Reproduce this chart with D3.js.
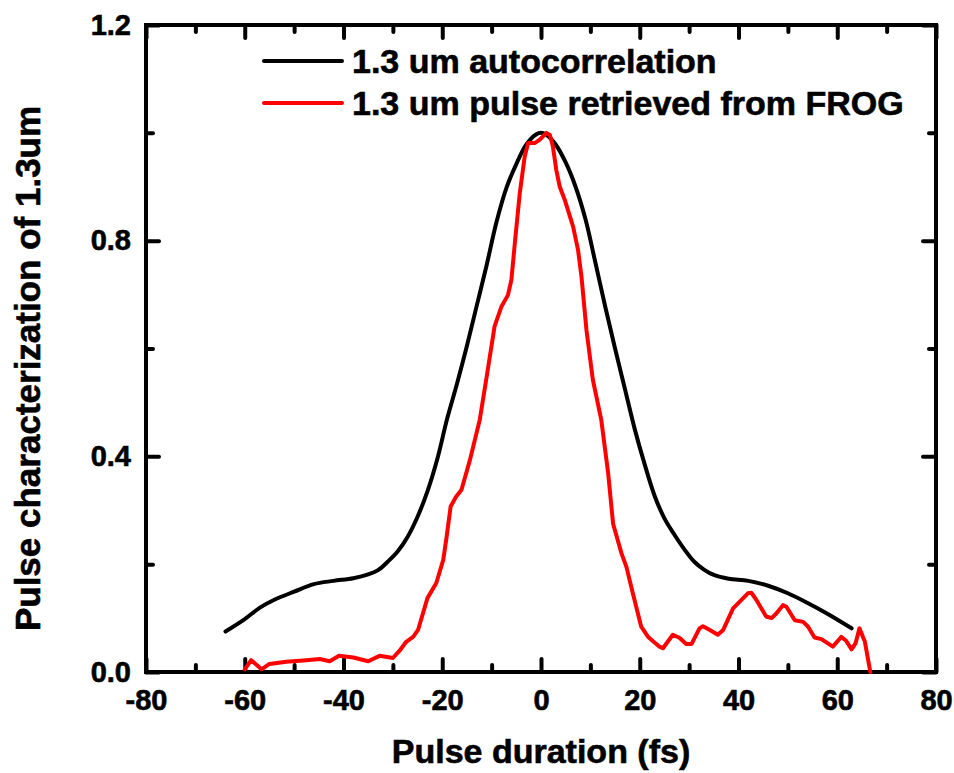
<!DOCTYPE html>
<html>
<head>
<meta charset="utf-8">
<script src="https://cdn.jsdelivr.net/npm/d3@7"></script>
<style>
  body { margin: 0; background: #fff; }
  svg text { font-family: 'Liberation Sans', Arial, sans-serif; font-weight: bold; fill: #000; }
</style>
</head>
<body>
<div id="chart"></div>
<script>
// Autocorrelation trace (black)
const autoDelay = [-63.9, -60, -57, -54, -50, -46, -42, -38, -35, -33, -31, -29, -27, -25, -23, -21, -19, -17, -15, -13, -11, -9, -7, -5, -3, -1, 0,
  1, 3, 5, 7, 9, 11, 13, 15, 17, 19, 21, 23, 25, 27, 29, 31, 33, 35, 38, 42, 46, 50, 54, 58, 62.9]
const autoSignal = [0.075, 0.098, 0.119, 0.134, 0.149, 0.163, 0.169, 0.174, 0.181, 0.189, 0.205, 0.224, 0.251, 0.288, 0.335, 0.395, 0.47, 0.535, 0.605, 0.68, 0.755, 0.835, 0.898, 0.942, 0.978, 0.997, 1.0,
  0.997, 0.978, 0.945, 0.9, 0.84, 0.76, 0.678, 0.6, 0.525, 0.45, 0.385, 0.327, 0.285, 0.255, 0.228, 0.205, 0.19, 0.18, 0.173, 0.169, 0.16, 0.146, 0.128, 0.108, 0.081]

// Pulse retrieved from FROG (red)
const frogDelay = [-60, -58.7, -56.6, -55, -51.6, -47.5, -44.8, -42.8, -40.9, -38, -35, -32.7, -30, -28.6, -27.3, -25.9, -24.9, -23, -21.2, -19.8, -19.2, -18.3, -17.2, -16.1,
  -14.4, -12.4, -11.1, -9.4, -8, -6.7, -6, -5.3, -4.3, -3.3, -2.6, -1.3, -0.3, 1.1, 1.8, 2.4, 3.1, 3.8, 4.8, 6.5, 7.5, 8.2, 9.2, 10.5, 12.2, 13.6, 14.6, 16.3, 17.3, 18.6,
  20.3, 21.7, 24, 24.7, 26.7, 28.1, 29.4, 30.5, 32.1, 32.8, 34.2, 35.8, 36.9, 38.9, 40.2, 41.9, 42.6, 43.6, 45.6, 46.7, 47.7, 49, 49.7, 51.4, 53.1, 54.1, 55.4, 56.8,
  59.1, 60.8, 61.8, 62.9, 63.7, 64.5, 65.6, 66.7]
const frogSignal = [0.005, 0.022, 0.005, 0.015, 0.019, 0.022, 0.024, 0.02, 0.03, 0.027, 0.02, 0.03, 0.026, 0.04, 0.056, 0.065, 0.078, 0.137, 0.165, 0.208, 0.245, 0.307, 0.325, 0.338,
  0.393, 0.468, 0.542, 0.641, 0.678, 0.699, 0.727, 0.795, 0.888, 0.956, 0.981, 0.981, 0.987, 1.0, 0.996, 0.975, 0.931, 0.9, 0.876, 0.826, 0.783, 0.733, 0.635, 0.542, 0.468, 0.369, 0.275, 0.22, 0.195, 0.146,
  0.084, 0.065, 0.047, 0.044, 0.069, 0.063, 0.052, 0.052, 0.081, 0.085, 0.078, 0.069, 0.078, 0.118, 0.13, 0.146, 0.147, 0.134, 0.103, 0.1, 0.109, 0.124, 0.121, 0.096, 0.093, 0.084, 0.064, 0.061,
  0.047, 0.065, 0.058, 0.042, 0.053, 0.081, 0.056, 0.0]

// Ticks
const xMajorTicks = [-80, -60, -40, -20, 0, 20, 40, 60, 80]
const xMinorTicks = [-70, -50, -30, -10, 10, 30, 50, 70]
const yMajorTicks = [0, 0.4, 0.8, 1.2]
const yMinorTicks = [0.2, 0.6, 1.0]

const seriesNames = ['1.3 um autocorrelation', '1.3 um pulse retrieved from FROG']
const seriesColors = ['#000000', '#ff0000']

const width = 954
const height = 773
const margin = { top: 25, right: 18, bottom: 101, left: 146 }
const innerW = width - margin.left - margin.right
const innerH = height - margin.top - margin.bottom

const svg = d3
  .select('#chart')
  .append('svg')
  .attr('width', width)
  .attr('height', height)

const g = svg.append('g').attr('transform', `translate(${margin.left},${margin.top})`)

// Scales
const x = d3.scaleLinear().domain([-80, 80]).range([0, innerW])
const y = d3.scaleLinear().domain([0, 1.2]).range([innerH, 0])

const majorLen = 13
const minorLen = 7

// Styling helper for axis groups
function styleAxis(sel, labels) {
  sel.select('.domain').remove()
  sel.selectAll('.tick line').attr('stroke', '#000').attr('stroke-width', 4).attr('stroke-linecap', 'round')
  sel.selectAll('.tick text')
    .attr('font-size', 29)
    .attr('fill', '#000')
    .attr('stroke', '#000')
    .attr('stroke-width', 0.6)
  if (!labels) sel.selectAll('.tick text').remove()
}

// Bottom axis
g.append('g')
  .attr('transform', `translate(0,${innerH})`)
  .call(d3.axisBottom(x).tickValues(xMajorTicks).tickSizeInner(-majorLen).tickSizeOuter(0).tickPadding(17).tickFormat(d => String(d)))
  .call(s => styleAxis(s, true))
g.append('g')
  .attr('transform', `translate(0,${innerH})`)
  .call(d3.axisBottom(x).tickValues(xMinorTicks).tickSizeInner(-minorLen).tickSizeOuter(0))
  .call(s => styleAxis(s, false))

// Top axis
g.append('g')
  .call(d3.axisTop(x).tickValues(xMajorTicks).tickSizeInner(-majorLen).tickSizeOuter(0))
  .call(s => styleAxis(s, false))
g.append('g')
  .call(d3.axisTop(x).tickValues(xMinorTicks).tickSizeInner(-minorLen).tickSizeOuter(0))
  .call(s => styleAxis(s, false))

// Left axis
g.append('g')
  .call(d3.axisLeft(y).tickValues(yMajorTicks).tickSizeInner(-majorLen).tickSizeOuter(0).tickPadding(15).tickFormat(d3.format('.1f')))
  .call(s => styleAxis(s, true))
g.append('g')
  .call(d3.axisLeft(y).tickValues(yMinorTicks).tickSizeInner(-minorLen).tickSizeOuter(0))
  .call(s => styleAxis(s, false))

// Right axis
g.append('g')
  .attr('transform', `translate(${innerW},0)`)
  .call(d3.axisRight(y).tickValues(yMajorTicks).tickSizeInner(-majorLen).tickSizeOuter(0))
  .call(s => styleAxis(s, false))
g.append('g')
  .attr('transform', `translate(${innerW},0)`)
  .call(d3.axisRight(y).tickValues(yMinorTicks).tickSizeInner(-minorLen).tickSizeOuter(0))
  .call(s => styleAxis(s, false))

// Frame
g.append('rect')
  .attr('x', 0)
  .attr('y', 0)
  .attr('width', innerW)
  .attr('height', innerH)
  .attr('fill', 'none')
  .attr('stroke', '#000')
  .attr('stroke-width', 4)

// Lines
const autoData = autoDelay.map((d, i) => [d, autoSignal[i]])
const frogData = frogDelay.map((d, i) => [d, frogSignal[i]])

const smoothLine = d3.line().x(d => x(d[0])).y(d => y(d[1])).curve(d3.curveCatmullRom)
const rawLine = d3.line().x(d => x(d[0])).y(d => y(d[1]))

g.append('path')
  .datum(autoData)
  .attr('fill', 'none')
  .attr('stroke', seriesColors[0])
  .attr('stroke-width', 4)
  .attr('stroke-linejoin', 'round')
  .attr('stroke-linecap', 'round')
  .attr('d', smoothLine)

g.append('path')
  .datum(frogData)
  .attr('fill', 'none')
  .attr('stroke', seriesColors[1])
  .attr('stroke-width', 4)
  .attr('stroke-linejoin', 'round')
  .attr('stroke-linecap', 'round')
  .attr('d', rawLine)

// Legend
const legend = svg.append('g').attr('transform', 'translate(264,61)')
seriesNames.forEach((name, i) => {
  const row = legend.append('g').attr('transform', `translate(0,${i * 42})`)
  row.append('line')
    .attr('x1', 0)
    .attr('x2', 78)
    .attr('stroke', seriesColors[i])
    .attr('stroke-width', 4)
    .attr('stroke-linecap', 'round')
  row.append('text')
    .attr('x', 88)
    .attr('dy', '0.36em')
    .attr('font-size', 34)
    .attr('stroke', '#000')
    .attr('stroke-width', 0.6)
    .text(name)
})

// Axis titles
svg.append('text')
  .attr('x', margin.left + innerW / 2)
  .attr('y', 763)
  .attr('text-anchor', 'middle')
  .attr('font-size', 34)
  .attr('stroke', '#000')
  .attr('stroke-width', 0.6)
  .text('Pulse duration (fs)')

svg.append('text')
  .attr('transform', `translate(40,${margin.top + innerH / 2 + 20}) rotate(-90)`)
  .attr('text-anchor', 'middle')
  .attr('font-size', 35)
  .attr('stroke', '#000')
  .attr('stroke-width', 0.6)
  .text('Pulse characterization of 1.3um')
</script>
</body>
</html>
